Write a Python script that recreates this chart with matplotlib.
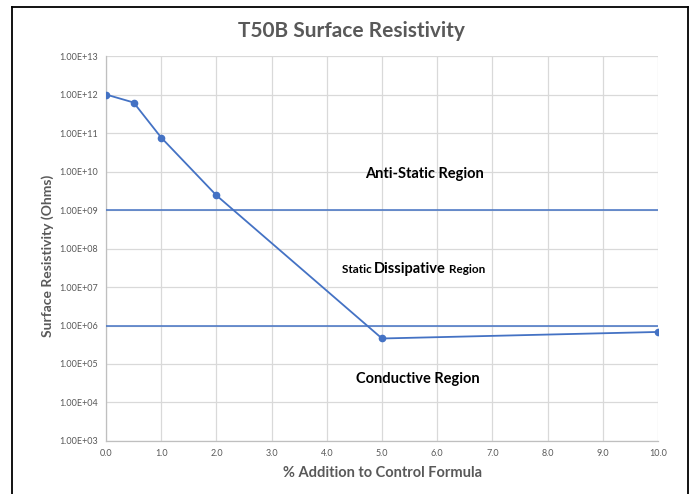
import numpy as np
import matplotlib.pyplot as plt
from matplotlib.ticker import FuncFormatter, FixedLocator
from matplotlib.lines import Line2D
from matplotlib.transforms import offset_copy

plt.rcParams['font.family'] = ['Lato', 'DejaVu Sans']

# data
pct_addition = [0.0, 0.5, 1.0, 2.0, 5.0, 10.0]
resistivity = [1.0e12, 6.2e11, 7.6e10, 2.4e9, 4.6e5, 6.8e5]
limits = [1e9, 1e6]
x_ticks = [0, 1, 2, 3, 4, 5, 6, 7, 8, 9, 10]
y_ticks = [10.0 ** p for p in range(3, 14)]

blue = "#4472C4"
grey = "#595959"

fig = plt.figure(figsize=(6.92, 4.94), dpi=100)
ax = fig.add_axes([0.1532, 0.1073, 0.7977, 0.7793])

ax.set_yscale('log')
ax.set_xlim(0, 10)
ax.set_ylim(1e3, 1e13)

for lim in limits:
    ax.axhline(lim, color=blue, lw=1.1, zorder=3)
ax.plot(pct_addition, resistivity, color=blue, lw=1.3, marker='o', ms=4.5, zorder=4)

ax.xaxis.set_major_locator(FixedLocator(x_ticks))
ax.yaxis.set_major_locator(FixedLocator(y_ticks))
ax.yaxis.set_minor_locator(FixedLocator([]))
ax.xaxis.set_major_formatter(FuncFormatter(lambda v, p: f"{v:.1f}"))
ax.yaxis.set_major_formatter(FuncFormatter(lambda v, p: f"{v:.2E}"))
ax.tick_params(axis='both', length=0, labelsize=6.5, labelcolor=grey, pad=6)
ax.grid(True, color="#D9D9D9", lw=0.9)
ax.set_axisbelow(True)
for side in ['top', 'right']:
    ax.spines[side].set_visible(False)
for side in ['left', 'bottom']:
    ax.spines[side].set_color("#BFBFBF")
    ax.spines[side].set_linewidth(0.9)

ax.set_xlabel("% Addition to Control Formula", fontsize=10.5, fontweight='bold', color=grey)
ax.xaxis.set_label_coords(0.5, -0.066)
ax.set_ylabel("Surface Resistivity (Ohms)", fontsize=10, fontweight='bold', color=grey)
ax.yaxis.set_label_coords(-0.095, 0.48)
fig.text(0.508, 0.937, "T50B Surface Resistivity", ha='center', va='center',
         fontsize=15, fontweight='bold', color=grey)

# region labels
ax.text(5.76, 8.6e9, "Anti-Static Region", ha='center', va='center', fontsize=10.5, fontweight='bold')
ax.text(5.65, 4.1e4, "Conductive Region", ha='center', va='center', fontsize=10.5, fontweight='bold')
mid = ax.text(5.51, 2.9e7, "Dissipative", ha='center', va='center', fontsize=10.5, fontweight='bold')
fig.canvas.draw()
bb = mid.get_window_extent()
half = bb.width / 2 * 72 / fig.dpi
ax.text(5.51, 2.9e7, "Static ", ha='right', va='center', fontsize=8.5, fontweight='bold',
        transform=offset_copy(ax.transData, fig=fig, x=-half, y=-0.3, units='points'))
ax.text(5.51, 2.9e7, " Region", ha='left', va='center', fontsize=8.5, fontweight='bold',
        transform=offset_copy(ax.transData, fig=fig, x=half, y=-0.3, units='points'))

# chart frame
x0, x1, ytop = 12 / 692, 688 / 692, 1 - 7 / 494
for xs, ys in [([x0, x0], [0, ytop]), ([x0, x1], [ytop, ytop]), ([x1, x1], [ytop, 0])]:
    fig.add_artist(Line2D(xs, ys, transform=fig.transFigure, color='black', lw=1.3))

fig.savefig("out.png", dpi=100)
